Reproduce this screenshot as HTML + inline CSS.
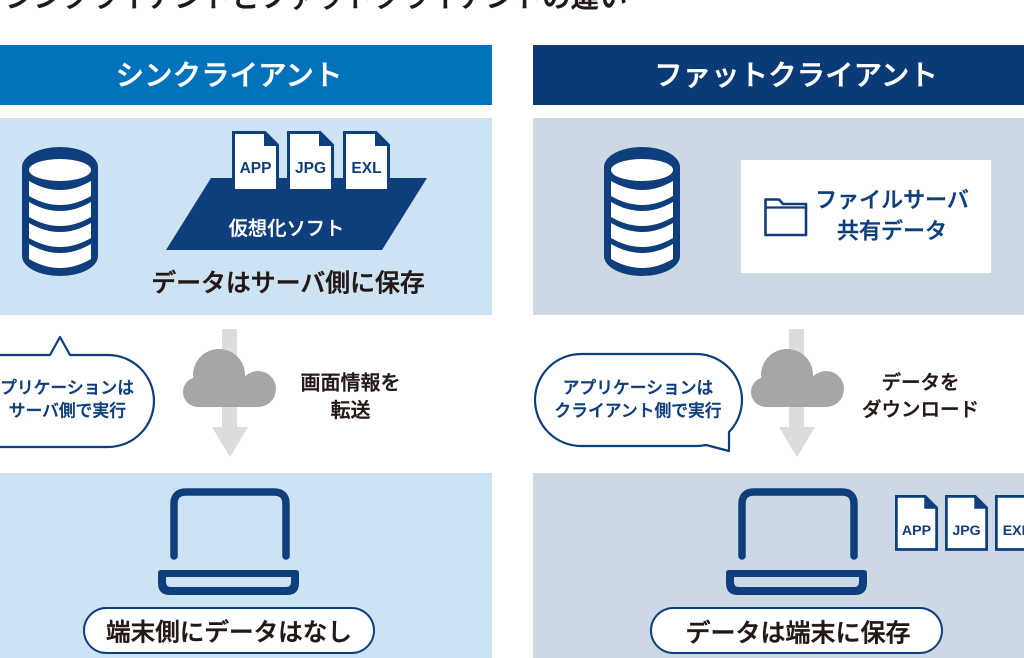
<!DOCTYPE html>
<html><head><meta charset="utf-8"><style>
html,body{margin:0;padding:0;background:#fff;overflow:hidden;}
svg{display:block;}
</style></head>
<body>
<svg width="1024" height="658" viewBox="0 0 1024 658" style="font-family:'Liberation Sans','Noto Sans CJK JP',sans-serif;">
<rect width="1024" height="658" fill="#fff"/>

<!-- Title (cut off at top) -->
<text x="5" y="7" font-size="28.4" font-weight="500" fill="#231815" stroke="#231815" stroke-width="0.5">シンクライアントとファットクライアントの違い</text>

<!-- Headers -->
<rect x="0" y="45" width="492" height="60" fill="#0072bc"/>
<rect x="533" y="45" width="491" height="60" fill="#0b3b77"/>
<text x="229" y="84.8" font-size="28.5" font-weight="500" fill="#fff" stroke="#fff" stroke-width="0.5" text-anchor="middle">シンクライアント</text>
<text x="796" y="84.8" font-size="28.5" font-weight="500" fill="#fff" stroke="#fff" stroke-width="0.5" text-anchor="middle">ファットクライアント</text>

<!-- Panels -->
<rect x="0" y="118" width="492" height="197" fill="#cde3f3"/>
<rect x="533" y="118" width="491" height="197" fill="#cdd8e5"/>
<rect x="0" y="473" width="492" height="185" fill="#cde3f3"/>
<rect x="533" y="473" width="491" height="185" fill="#cdd8e5"/>

<!-- DB icon left -->
<g>
<path d="M22,167 A38,20 0 0 1 98,167 L98,256 A38,20 0 0 1 22,256 Z" fill="#0e3e7b"/>
<ellipse cx="60" cy="170" rx="31" ry="11" fill="#fff"/>
<path d="M29,181 Q60,199 91,181 L91,196 Q60,214 29,196 Z" fill="#fff"/>
<path d="M29,202 Q60,220 91,202 L91,217 Q60,235 29,217 Z" fill="#fff"/>
<path d="M29,223 Q60,241 91,223 L91,238 Q60,256 29,238 Z" fill="#fff"/>
<path d="M29,244 Q60,262 91,244 L91,259 Q60,277 29,259 Z" fill="#fff"/>
</g>
<!-- DB icon right -->
<g transform="translate(582,0)">
<path d="M22,167 A38,20 0 0 1 98,167 L98,256 A38,20 0 0 1 22,256 Z" fill="#0e3e7b"/>
<ellipse cx="60" cy="170" rx="31" ry="11" fill="#fff"/>
<path d="M29,181 Q60,199 91,181 L91,196 Q60,214 29,196 Z" fill="#fff"/>
<path d="M29,202 Q60,220 91,202 L91,217 Q60,235 29,217 Z" fill="#fff"/>
<path d="M29,223 Q60,241 91,223 L91,238 Q60,256 29,238 Z" fill="#fff"/>
<path d="M29,244 Q60,262 91,244 L91,259 Q60,277 29,259 Z" fill="#fff"/>
</g>

<!-- Virtualization parallelogram -->
<polygon points="211,178 427,178 382,250 166,250" fill="#0e3e7b"/>
<text x="286.5" y="234.8" font-size="19.3" font-weight="500" fill="#fff" stroke="#fff" stroke-width="0.3" text-anchor="middle">仮想化ソフト</text>

<!-- Left documents -->
<g transform="translate(232,131)">
<path d="M1.5,1.5 H33 L45.5,14 V59.5 H1.5 Z" fill="#fff" stroke="#0e3e7b" stroke-width="3"/>
<path d="M32,1.5 V15 H45.5 Z" fill="#0e3e7b"/>
<text x="23.5" y="42" text-anchor="middle" font-weight="bold" font-size="15.5" fill="#0e3e7b">APP</text>
</g>
<g transform="translate(287,131)">
<path d="M1.5,1.5 H33 L45.5,14 V59.5 H1.5 Z" fill="#fff" stroke="#0e3e7b" stroke-width="3"/>
<path d="M32,1.5 V15 H45.5 Z" fill="#0e3e7b"/>
<text x="23.5" y="42" text-anchor="middle" font-weight="bold" font-size="15.5" fill="#0e3e7b">JPG</text>
</g>
<g transform="translate(343,131)">
<path d="M1.5,1.5 H33 L45.5,14 V59.5 H1.5 Z" fill="#fff" stroke="#0e3e7b" stroke-width="3"/>
<path d="M32,1.5 V15 H45.5 Z" fill="#0e3e7b"/>
<text x="23.5" y="42" text-anchor="middle" font-weight="bold" font-size="15.5" fill="#0e3e7b">EXL</text>
</g>

<text x="288" y="291.5" font-size="24.9" font-weight="500" fill="#231815" stroke="#231815" stroke-width="0.5" text-anchor="middle">データはサーバ側に保存</text>

<!-- Right file server box -->
<rect x="741" y="160" width="250" height="113" fill="#fff"/>
<path d="M765.5,235 V199.5 H779 L783,204 H806 V235 Z" fill="none" stroke="#0e3e7b" stroke-width="2.6" stroke-linejoin="round"/>
<line x1="765.5" y1="207.5" x2="806" y2="207.5" stroke="#0e3e7b" stroke-width="2.2"/>
<text x="892" y="207.4" font-size="22" font-weight="500" fill="#0e3e7b" stroke="#0e3e7b" stroke-width="0.4" text-anchor="middle">ファイルサーバ</text>
<text x="892" y="238.4" font-size="22" font-weight="500" fill="#0e3e7b" stroke="#0e3e7b" stroke-width="0.4" text-anchor="middle">共有データ</text>

<!-- Arrows + clouds -->
<g fill="#dcdcdc">
<rect x="222" y="329" width="15" height="100"/>
<polygon points="212,427 248,427 230,457"/>
<rect x="789" y="329" width="15" height="100"/>
<polygon points="779,427 815,427 797,457"/>
</g>
<g fill="#a6a6a6">
<circle cx="198" cy="392" r="15"/>
<circle cx="219" cy="375" r="26"/>
<circle cx="258" cy="389" r="18"/>
<rect x="198" y="380" width="60" height="27"/>
</g>
<g fill="#a6a6a6" transform="translate(568,0)">
<circle cx="198" cy="392" r="15"/>
<circle cx="219" cy="375" r="26"/>
<circle cx="258" cy="389" r="18"/>
<rect x="198" y="380" width="60" height="27"/>
</g>

<text x="350.5" y="389.6" font-size="20" font-weight="500" fill="#231815" stroke="#231815" stroke-width="0.4" text-anchor="middle">画面情報を</text>
<text x="350.5" y="417.1" font-size="20" font-weight="500" fill="#231815" stroke="#231815" stroke-width="0.4" text-anchor="middle">転送</text>
<text x="920.5" y="389" font-size="19.5" font-weight="500" fill="#231815" stroke="#231815" stroke-width="0.4" text-anchor="middle">データを</text>
<text x="920.5" y="416" font-size="19.5" font-weight="500" fill="#231815" stroke="#231815" stroke-width="0.4" text-anchor="middle">ダウンロード</text>

<!-- Bubbles -->
<path d="M-7,355 H50 L60,337 L70,355 H108 A46,46 0 0 1 108,447 H-7 A46,46 0 0 1 -7,355 Z" fill="#fff" stroke="#0e3e7b" stroke-width="2.2" stroke-linejoin="round"/>
<text x="134" y="393.4" font-size="16.8" font-weight="500" fill="#0e3e7b" stroke="#0e3e7b" stroke-width="0.4" text-anchor="end">アプリケーションは</text>
<text x="126" y="416.4" font-size="16.8" font-weight="500" fill="#0e3e7b" stroke="#0e3e7b" stroke-width="0.4" text-anchor="end">サーバ側で実行</text>

<path d="M581,354 H696 A46,46 0 0 1 729,432 L729,451 L706,445 A46,46 0 0 1 696,446 H581 A46,46 0 0 1 581,354 Z" fill="#fff" stroke="#0e3e7b" stroke-width="2.2" stroke-linejoin="round"/>
<text x="638" y="393.4" font-size="16.8" font-weight="500" fill="#0e3e7b" stroke="#0e3e7b" stroke-width="0.4" text-anchor="middle">アプリケーションは</text>
<text x="638" y="416.4" font-size="16.8" font-weight="500" fill="#0e3e7b" stroke="#0e3e7b" stroke-width="0.4" text-anchor="middle">クライアント側で実行</text>

<!-- Laptops -->
<g>
<path d="M174,556 V504 Q174,492 186,492 H274 Q286,492 286,504 V556" fill="none" stroke="#0e3e7b" stroke-width="7.5" stroke-linecap="round"/>
<path d="M158,573 Q158,570 161,570 H296 Q299,570 299,573 V583 Q299,595 287,595 H170 Q158,595 158,583 Z" fill="#0e3e7b"/>
<path d="M166,577 H291 V582 Q291,587 286,587 H171 Q166,587 166,582 Z" fill="#cde3f3"/>
</g>
<g transform="translate(568,0)">
<path d="M174,556 V504 Q174,492 186,492 H274 Q286,492 286,504 V556" fill="none" stroke="#0e3e7b" stroke-width="7.5" stroke-linecap="round"/>
<path d="M158,573 Q158,570 161,570 H296 Q299,570 299,573 V583 Q299,595 287,595 H170 Q158,595 158,583 Z" fill="#0e3e7b"/>
<path d="M166,577 H291 V582 Q291,587 286,587 H171 Q166,587 166,582 Z" fill="#cdd8e5"/>
</g>

<!-- Right documents -->
<g transform="translate(895,495) scale(0.915)">
<path d="M1.5,1.5 H33 L45.5,14 V59.5 H1.5 Z" fill="#fff" stroke="#0e3e7b" stroke-width="3"/>
<path d="M32,1.5 V15 H45.5 Z" fill="#0e3e7b"/>
<text x="23.5" y="44" text-anchor="middle" font-weight="bold" font-size="15.5" fill="#0e3e7b">APP</text>
</g>
<g transform="translate(945,495) scale(0.915)">
<path d="M1.5,1.5 H33 L45.5,14 V59.5 H1.5 Z" fill="#fff" stroke="#0e3e7b" stroke-width="3"/>
<path d="M32,1.5 V15 H45.5 Z" fill="#0e3e7b"/>
<text x="23.5" y="44" text-anchor="middle" font-weight="bold" font-size="15.5" fill="#0e3e7b">JPG</text>
</g>
<g transform="translate(995,495) scale(0.915)">
<path d="M1.5,1.5 H33 L45.5,14 V59.5 H1.5 Z" fill="#fff" stroke="#0e3e7b" stroke-width="3"/>
<path d="M32,1.5 V15 H45.5 Z" fill="#0e3e7b"/>
<text x="23.5" y="44" text-anchor="middle" font-weight="bold" font-size="15.5" fill="#0e3e7b">EXL</text>
</g>

<!-- Pills -->
<rect x="84" y="608" width="290" height="45" rx="22.5" fill="#fff" stroke="#0e3e7b" stroke-width="2"/>
<text x="229" y="640.3" font-size="24.6" font-weight="500" fill="#231815" stroke="#231815" stroke-width="0.5" text-anchor="middle">端末側にデータはなし</text>
<rect x="651" y="608" width="291" height="45" rx="22.5" fill="#fff" stroke="#0e3e7b" stroke-width="2"/>
<text x="798" y="641.5" font-size="25" font-weight="500" fill="#231815" stroke="#231815" stroke-width="0.5" text-anchor="middle">データは端末に保存</text>
</svg>
</body></html>
